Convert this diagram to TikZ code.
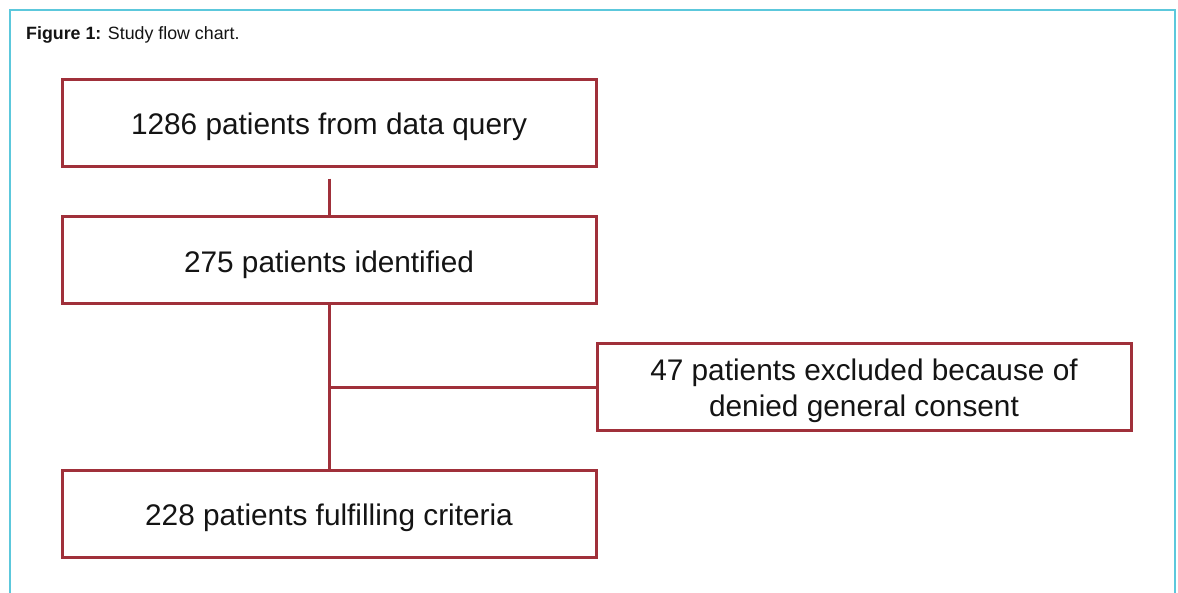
\documentclass[tikz,border=0pt]{standalone}
\usepackage{fontspec}
\setmainfont{Liberation Sans}
\definecolor{boxred}{RGB}{160,48,58}
\definecolor{framecyan}{RGB}{92,200,220}
\definecolor{inktext}{RGB}{20,20,20}
\begin{document}
\begin{tikzpicture}[x=1pt,y=-1pt,
  flowbox/.style={draw=boxred,line width=3pt,minimum width=534pt,minimum height=87pt,inner sep=0pt,align=center,font=\fontsize{29.8}{36}\selectfont,text=inktext,text height=24pt,text depth=0pt},
  twoline/.style={text height=59pt,text depth=0pt},
  conn/.style={draw=boxred,line width=3pt}]
\useasboundingbox (0,0) rectangle (1178,592);
\fill[white] (0,0) rectangle (1178,592);
\draw[framecyan,line width=2pt] (10,600) -- (10,10) -- (1175,10) -- (1175,600);
\node[anchor=base west,inner sep=0pt,font=\fontsize{17.8}{20}\selectfont,text=inktext] (cap) at (26,39.5) {\textbf{Figure 1:} Study flow chart.};
\node[flowbox] (b1) at (329,122.5) {1286 patients from data query};
\node[flowbox] (b2) at (329,260) {275 patients identified};
\node[flowbox,twoline] (b3) at (864,387) {47 patients excluded because of\\denied general consent};
\node[flowbox] (b4) at (329,513.5) {228 patients fulfilling criteria};
\coordinate (c1) at ([yshift=-11pt]b1.south);
\draw[conn] (c1) -- (b2.north);
\draw[conn] (b2.south) -- (b4.north);
\draw[conn] (b2.south |- b3.west) -- (b3.west);
\end{tikzpicture}
\end{document}
